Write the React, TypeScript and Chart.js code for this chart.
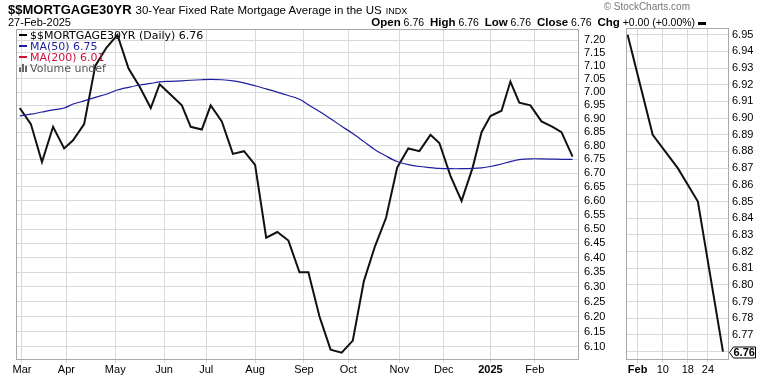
import React, { useEffect, useRef } from "react";
import { Chart, registerables } from "chart.js";

Chart.register(...registerables);

// ---------- data ----------
const dates = [
  "2024-02-29", "2024-03-07", "2024-03-14", "2024-03-21", "2024-03-28",
  "2024-04-04", "2024-04-11", "2024-04-18", "2024-04-25", "2024-05-02",
  "2024-05-09", "2024-05-16", "2024-05-23", "2024-05-30", "2024-06-06",
  "2024-06-13", "2024-06-20", "2024-06-27", "2024-07-03", "2024-07-11",
  "2024-07-18", "2024-07-25", "2024-08-01", "2024-08-08", "2024-08-15",
  "2024-08-22", "2024-08-29", "2024-09-05", "2024-09-12", "2024-09-19",
  "2024-09-26", "2024-10-03", "2024-10-10", "2024-10-17", "2024-10-24",
  "2024-10-31", "2024-11-07", "2024-11-14", "2024-11-21", "2024-11-27",
  "2024-12-05", "2024-12-12", "2024-12-19", "2024-12-26", "2025-01-02",
  "2025-01-09", "2025-01-16", "2025-01-23", "2025-01-30", "2025-02-06",
  "2025-02-13", "2025-02-20", "2025-02-27",
];
const closes = [
  6.94, 6.88, 6.74, 6.87, 6.79,
  6.82, 6.88, 7.10, 7.17, 7.22,
  7.09, 7.02, 6.94, 7.03, 6.99,
  6.95, 6.87, 6.86, 6.95, 6.89,
  6.77, 6.78, 6.73, 6.47, 6.49,
  6.46, 6.35, 6.35, 6.20, 6.09,
  6.08, 6.12, 6.32, 6.44, 6.54,
  6.72, 6.79, 6.78, 6.84, 6.81,
  6.69, 6.60, 6.72, 6.85, 6.91,
  6.93, 7.04, 6.96, 6.95, 6.89,
  6.87, 6.85, 6.76,
];
const ma50 = [
  6.910, 6.917, 6.925, 6.933, 6.940,
  6.955, 6.967, 6.980, 6.992, 7.008,
  7.018, 7.027, 7.033, 7.039, 7.041,
  7.043, 7.045, 7.047, 7.048, 7.047,
  7.043, 7.035, 7.024, 7.012, 7.000,
  6.987, 6.973, 6.952, 6.927, 6.900,
  6.872, 6.845, 6.815, 6.785, 6.762,
  6.742, 6.731, 6.724, 6.720, 6.717,
  6.716, 6.716, 6.717, 6.719, 6.724,
  6.733, 6.742, 6.749, 6.752, 6.752,
  6.751, 6.750, 6.750,
];
const monthTickDates = [
  "2024-03-01", "2024-04-01", "2024-05-01", "2024-06-03", "2024-07-01", "2024-08-01",
  "2024-09-03", "2024-10-01", "2024-11-01", "2024-12-02", "2025-01-02", "2025-02-03",
];
const monthTickLabels = ["Mar", "Apr", "May", "Jun", "Jul", "Aug", "Sep", "Oct", "Nov", "Dec", "2025", "Feb"];
const mainYTicks = [
  6.10, 6.15, 6.20, 6.25, 6.30, 6.35, 6.40, 6.45, 6.50, 6.55, 6.60, 6.65,
  6.70, 6.75, 6.80, 6.85, 6.90, 6.95, 7.00, 7.05, 7.10, 7.15, 7.20,
];
const zoomDates = ["2025-01-30", "2025-02-06", "2025-02-13", "2025-02-20", "2025-02-27"];
const zoomCloses = [6.95, 6.89, 6.87, 6.85, 6.76];
const zoomTickDates = ["2025-02-03", "2025-02-10", "2025-02-18", "2025-02-24"];
const zoomTickLabels = ["Feb", "10", "18", "24"];
const zoomYTicks = [
  6.76, 6.77, 6.78, 6.79, 6.80, 6.81, 6.82, 6.83, 6.84, 6.85,
  6.86, 6.87, 6.88, 6.89, 6.90, 6.91, 6.92, 6.93, 6.94, 6.95,
];
const holidays = [
  "2024-03-29", "2024-05-27", "2024-06-19", "2024-07-04", "2024-09-02", "2024-11-28",
  "2024-12-25", "2025-01-01", "2025-01-09", "2025-01-20", "2025-02-17",
];
const BASE_DATE = "2024-03-01";

// ---------- helpers ----------
const DAY = 86400000;
const holidaySet = new Set(holidays);
function isTradingDay(ms: number) {
  const d = new Date(ms);
  const wd = d.getUTCDay();
  if (wd === 0 || wd === 6) return false;
  return !holidaySet.has(d.toISOString().slice(0, 10));
}
function tradingIndex(s: string) {
  const b = Date.parse(BASE_DATE + "T00:00:00Z");
  const t = Date.parse(s + "T00:00:00Z");
  let n = 0;
  if (t >= b) {
    for (let m = b; m < t; m += DAY) if (isTradingDay(m)) n++;
    return n;
  }
  for (let m = t; m < b; m += DAY) if (isTradingDay(m)) n--;
  return n;
}

const AXIS_FONT = '"Liberation Sans", Arial, sans-serif';
const GRID = "#d9d9d9";
const FRAME = "#a9a9a9";

const framePlugin = {
  id: "frame",
  afterDraw(chart: any) {
    const { ctx, chartArea } = chart;
    const { left, top, right, bottom } = chartArea;
    ctx.save();
    ctx.strokeStyle = FRAME;
    ctx.lineWidth = 1;
    ctx.strokeRect(Math.round(left) + 0.5, Math.round(top) + 0.5, Math.round(right - left) - 1, Math.round(bottom - top) - 1);
    ctx.restore();
  },
};

const lastClose = zoomCloses[zoomCloses.length - 1];
const tagPlugin = {
  id: "tag",
  afterDraw(chart: any) {
    const { ctx, chartArea } = chart;
    const y = Math.round(chart.scales.y.getPixelForValue(lastClose)) + 0.5;
    const x0 = chartArea.right + 0.5;
    ctx.save();
    ctx.beginPath();
    ctx.moveTo(x0, y);
    ctx.lineTo(x0 + 4, y - 5.5);
    ctx.lineTo(x0 + 26, y - 5.5);
    ctx.lineTo(x0 + 26, y + 5.5);
    ctx.lineTo(x0 + 4, y + 5.5);
    ctx.closePath();
    ctx.fillStyle = "#fff";
    ctx.fill();
    ctx.strokeStyle = "#000";
    ctx.lineWidth = 1;
    ctx.stroke();
    ctx.fillStyle = "#000";
    ctx.font = "bold 11px " + AXIS_FONT;
    ctx.textBaseline = "middle";
    ctx.textAlign = "left";
    ctx.fillText(lastClose.toFixed(2), x0 + 4, y + 0.5);
    ctx.restore();
  },
};

export default function App() {
  const mainRef = useRef<HTMLCanvasElement>(null);
  const sideRef = useRef<HTMLCanvasElement>(null);

  useEffect(() => {
    const mainChart = new Chart(mainRef.current as HTMLCanvasElement, {
      type: "line",
      data: {
        datasets: [
          {
            label: "MA(50)",
            data: dates.map((d, i) => ({ x: tradingIndex(d), y: ma50[i] })),
            borderColor: "#1e1e9e",
            borderWidth: 1.2,
            pointRadius: 0,
            tension: 0.3,
          },
          {
            label: "$$MORTGAGE30YR",
            data: dates.map((d, i) => ({ x: tradingIndex(d), y: closes[i] })),
            borderColor: "#111",
            borderWidth: 2,
            pointRadius: 0,
            tension: 0,
          },
        ],
      },
      options: {
        animation: false,
        responsive: false,
        layout: { padding: { left: 16, top: 29, right: 0, bottom: 0 } },
        plugins: { legend: { display: false }, tooltip: { enabled: false } },
        scales: {
          x: {
            type: "linear",
            min: -2.7,
            max: 250.9,
            afterBuildTicks: (s: any) => {
              s.ticks = monthTickDates.map((d) => ({ value: tradingIndex(d) }));
            },
            afterFit: (s: any) => {
              s.height = 16;
            },
            grid: { color: GRID, tickLength: 3, drawTicks: true },
            border: { display: false },
            ticks: {
              padding: 0,
              autoSkip: false,
              maxRotation: 0,
              color: "#000",
              font: (ctx: any) => ({
                family: AXIS_FONT,
                size: 11,
                weight: monthTickLabels[ctx.index] === "2025" ? "bold" : "normal",
              }),
              callback: (_v: any, i: number) => monthTickLabels[i],
            },
          },
          y: {
            type: "logarithmic",
            position: "right",
            min: 6.056,
            max: 7.243,
            afterBuildTicks: (s: any) => {
              s.ticks = mainYTicks.map((v) => ({ value: v }));
            },
            afterFit: (s: any) => {
              s.width = 41;
            },
            grid: { color: GRID, drawTicks: false },
            border: { display: false },
            ticks: {
              padding: 5,
              autoSkip: false,
              color: "#000",
              font: { family: AXIS_FONT, size: 11 },
              callback: (v: any) => Number(v).toFixed(2),
            },
          },
        },
      },
      plugins: [framePlugin],
    } as any);

    const sideChart = new Chart(sideRef.current as HTMLCanvasElement, {
      type: "line",
      data: {
        datasets: [
          {
            label: "Feb",
            data: zoomDates.map((d, i) => ({ x: tradingIndex(d), y: zoomCloses[i] })),
            borderColor: "#111",
            borderWidth: 2,
            pointRadius: 0,
            tension: 0,
          },
        ],
      },
      options: {
        animation: false,
        responsive: false,
        layout: { padding: { left: 6, top: 28, right: 0, bottom: 0 } },
        plugins: { legend: { display: false }, tooltip: { enabled: false } },
        scales: {
          x: {
            type: "linear",
            min: tradingIndex(zoomDates[0]) - 0.32,
            max: tradingIndex(zoomDates[0]) + 20.2,
            afterBuildTicks: (s: any) => {
              s.ticks = zoomTickDates.map((d) => ({ value: tradingIndex(d) }));
            },
            afterFit: (s: any) => {
              s.height = 16;
            },
            grid: { color: GRID, tickLength: 3, drawTicks: true },
            border: { display: false },
            ticks: {
              padding: 0,
              autoSkip: false,
              maxRotation: 0,
              color: "#000",
              font: (ctx: any) => ({
                family: AXIS_FONT,
                size: 11,
                weight: zoomTickLabels[ctx.index] === "Feb" ? "bold" : "normal",
              }),
              callback: (_v: any, i: number) => zoomTickLabels[i],
            },
          },
          y: {
            type: "linear",
            position: "right",
            min: 6.755,
            max: 6.954,
            afterBuildTicks: (s: any) => {
              s.ticks = zoomYTicks.map((v) => ({ value: v }));
            },
            afterFit: (s: any) => {
              s.width = 41;
            },
            grid: { color: GRID, drawTicks: false },
            border: { display: false },
            ticks: {
              padding: 3,
              autoSkip: false,
              color: "#000",
              font: { family: AXIS_FONT, size: 11 },
              callback: (v: any) => (Math.abs(Number(v) - lastClose) < 1e-6 ? "" : Number(v).toFixed(2)),
            },
          },
        },
      },
      plugins: [framePlugin, tagPlugin],
    } as any);

    return () => {
      mainChart.destroy();
      sideChart.destroy();
    };
  }, []);

  const legendFont = '"DejaVu Sans", Verdana, sans-serif';
  const dash = (color: string) => (
    <span style={{ display: "inline-block", width: 8, height: 2, background: color, marginRight: 3, verticalAlign: "middle", position: "relative", top: -1 }} />
  );
  const label = (t: string) => <b style={{ fontSize: 11.5 }}>{t}</b>;

  return (
    <div
      style={{
        position: "fixed",
        left: 0,
        top: 0,
        width: 770,
        height: 376,
        background: "#fff",
        overflow: "hidden",
        fontFamily: AXIS_FONT,
        color: "#000",
      }}
    >
      <canvas ref={mainRef} width={620} height={376} style={{ position: "absolute", left: 0, top: 0, width: 620, height: 376 }} />
      <canvas ref={sideRef} width={150} height={376} style={{ position: "absolute", left: 620, top: 0, width: 150, height: 376 }} />

      {/* header line 1 */}
      <div style={{ position: "absolute", left: 8, top: 1, whiteSpace: "nowrap", lineHeight: "16px" }}>
        <span style={{ fontWeight: "bold", fontSize: 13 }}>$$MORTGAGE30YR</span>
        <span style={{ fontSize: 11.5, marginLeft: 4 }}>30-Year Fixed Rate Mortgage Average in the US</span>
        <span style={{ fontSize: 9, marginLeft: 4 }}>INDX</span>
      </div>
      <div style={{ position: "absolute", right: 80, top: 1, whiteSpace: "nowrap", fontSize: 10, color: "#777", lineHeight: "12px" }}>
        © StockCharts.com
      </div>
      {/* header line 2 */}
      <div style={{ position: "absolute", left: 8, top: 15, whiteSpace: "nowrap", fontSize: 11, lineHeight: "14px" }}>27-Feb-2025</div>
      <div style={{ position: "absolute", right: 64, top: 15, whiteSpace: "nowrap", fontSize: 10.5, lineHeight: "14px" }}>
        {label("Open")} 6.76&nbsp; {label("High")} 6.76&nbsp; {label("Low")} 6.76&nbsp; {label("Close")} 6.76&nbsp; {label("Chg")} +0.00 (+0.00%){" "}
        <span style={{ display: "inline-block", width: 8, height: 3, background: "#000", verticalAlign: "middle" }} />
      </div>

      {/* legend */}
      <div style={{ position: "absolute", left: 19, top: 30, fontFamily: legendFont, fontSize: 11, lineHeight: "11px", whiteSpace: "nowrap" }}>
        <div style={{ color: "#000" }}>
          {dash("#000")}$$MORTGAGE30YR (Daily) 6.76
        </div>
        <div style={{ color: "#1e1e9e" }}>
          {dash("#1e1e9e")}MA(50) 6.75
        </div>
        <div style={{ color: "#d4103c" }}>
          {dash("#d4103c")}MA(200) 6.01
        </div>
        <div style={{ color: "#555" }}>
          <span style={{ display: "inline-block", width: 8, height: 8, marginRight: 3, verticalAlign: "middle", position: "relative", top: -1, background: "linear-gradient(90deg,#666 0 2px,transparent 2px 3px,#666 3px 5px,transparent 5px 6px,#666 6px 8px)", clipPath: "polygon(0 40%,33% 40%,33% 0,66% 0,66% 25%,100% 25%,100% 100%,0 100%)" }} />
          Volume undef
        </div>
      </div>
    </div>
  );
}
